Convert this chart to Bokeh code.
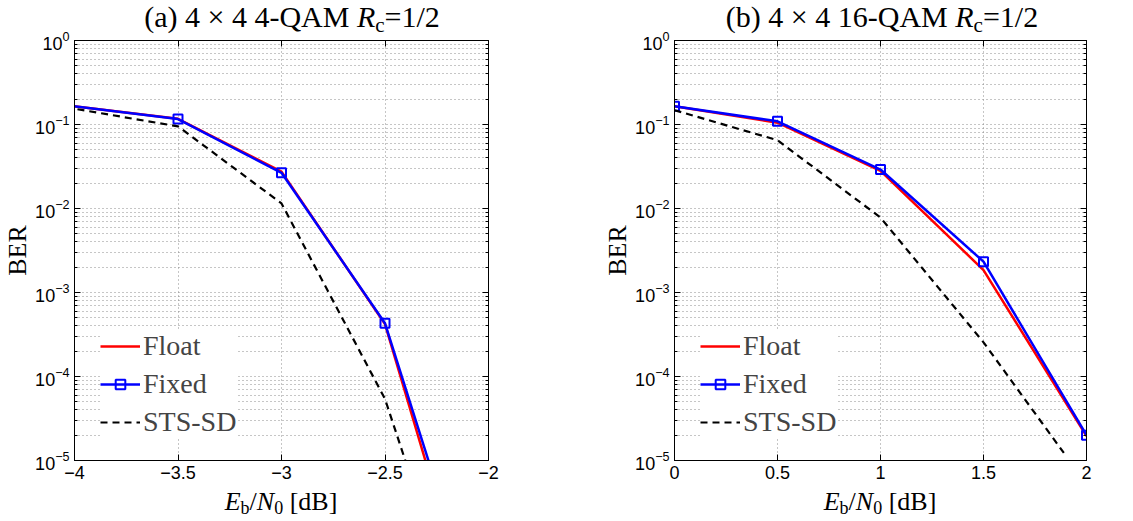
from bokeh.plotting import figure
from bokeh.layouts import row, column
from bokeh.models import (LinearAxis, LogAxis, FixedTicker, CustomJSTickFormatter,
                          LogTickFormatter, Legend, LegendItem, Div)
from bokeh.embed import file_html
from bokeh.resources import INLINE

# ---------------- data ----------------
# (a) 4x4 4-QAM Rc=1/2
A_X = [-4.5, -3.5, -3.0, -2.5, -2.0]
A_FLOAT = [0.233, 0.117, 0.0275, 4.2e-4, 2.9e-8]
A_FIXED = [0.233, 0.116, 0.0266, 4.3e-4, 5.5e-8]
A_STS_X = [-4.5, -3.5, -3.0, -2.5, -2.0]
A_STS = [0.25, 0.095, 0.0115, 5.4e-5, 1.0e-8]
A_XTICKS = [-4, -3.5, -3, -2.5, -2]
A_XLABELS = ["\u22124", "\u22123.5", "\u22123", "\u22122.5", "\u22122"]

# (b) 4x4 16-QAM Rc=1/2
B_X = [0.0, 0.5, 1.0, 1.5, 2.0]
B_FLOAT = [0.165, 0.105, 0.028, 1.85e-3, 1.95e-5]
B_FIXED = [0.165, 0.109, 0.0291, 2.33e-3, 2.0e-5]
B_STS_X = [0.0, 0.5, 1.0, 1.5, 1.89]
B_STS = [0.148, 0.065, 0.0078, 2.55e-4, 1.23e-5]
B_XTICKS = [0, 0.5, 1, 1.5, 2]
B_XLABELS = ["0", "0.5", "1", "1.5", "2"]

Y_DECADES = [1e-5, 1e-4, 1e-3, 1e-2, 1e-1, 1.0]
Y_MINOR = [m * d for d in Y_DECADES[:-1] for m in range(2, 10)]

TITLE_A = "(a) 4 \u00d7 4 4-QAM"
TITLE_B = "(b) 4 \u00d7 4 16-QAM"

SERIF = "Liberation Serif"
SANS = "Liberation Sans"
GRID_COLOR = "#8c8c8c"
TOP_B = 40
FIG_H = TOP_B + 420 + 50


def make_panel(width, left, right, xr, xticks, xlabels, x, yfloat, yfixed, sx, ssts):
    p = figure(width=width, height=FIG_H, x_range=xr, y_range=(1e-5, 1.0), y_axis_type="log",
               output_backend="svg", toolbar_location=None,
               min_border_left=left, min_border_right=right, min_border_top=TOP_B,
               min_border_bottom=50, background_fill_color="white",
               border_fill_color=None, outline_line_color="black")

    xb = p.below[0]
    yl = p.left[0]
    xt = FixedTicker(ticks=xticks)
    yt = FixedTicker(ticks=Y_DECADES, minor_ticks=Y_MINOR)
    xfmt = CustomJSTickFormatter(args=dict(vals=xticks, labs=xlabels), code="""
        for (let i = 0; i < vals.length; i++) { if (Math.abs(vals[i] - tick) < 1e-9) return labs[i]; }
        return '';""")
    blank = CustomJSTickFormatter(code="return '';")

    xb.ticker = xt
    xb.formatter = xfmt
    yl.ticker = yt
    yl.formatter = LogTickFormatter()
    p.xgrid.ticker = xt
    p.ygrid.ticker = yt

    top = LinearAxis(ticker=xt, formatter=blank)
    rgt = LogAxis(ticker=yt, formatter=blank)
    p.add_layout(top, "above")
    p.add_layout(rgt, "right")

    for ax in [xb, yl, top, rgt]:
        ax.axis_line_color = "black"
        ax.axis_line_width = 1
        ax.major_tick_in = 6
        ax.major_tick_out = 0
        ax.minor_tick_in = 3
        ax.minor_tick_out = 0
        ax.major_tick_line_color = "black"
        ax.minor_tick_line_color = "black"
        ax.major_label_text_font = SANS
        ax.major_label_text_font_size = "18px"
        ax.major_label_text_color = "black"
        ax.major_label_standoff = 5
    for ax in [top, rgt]:
        ax.major_label_text_font_size = "0px"
        ax.major_label_standoff = 0
    for ax in [xb, top]:
        ax.minor_tick_line_color = None

    yl.axis_label = "BER"
    yl.axis_label_text_font = SERIF
    yl.axis_label_text_font_size = "26px"
    yl.axis_label_text_font_style = "normal"
    yl.axis_label_text_color = "black"
    yl.axis_label_standoff = 0

    for g in [p.xgrid[0], p.ygrid[0]]:
        g.grid_line_color = GRID_COLOR
        g.grid_line_dash = "1 3"
        g.grid_line_width = 1
    p.ygrid.minor_grid_line_color = GRID_COLOR
    p.ygrid.minor_grid_line_dash = "1 3"
    p.ygrid.minor_grid_line_width = 1

    r_float = p.line(x, yfloat, line_color="#ff0000", line_width=2.5)
    r_fixed = p.line(x, yfixed, line_color="#0000ff", line_width=2.5)
    r_fixm = p.scatter(x, yfixed, marker="square", size=9, line_color="#0000ff",
                       line_width=2, fill_color=None)
    r_sts = p.line(sx, ssts, line_color="black", line_width=2.2, line_dash="7 5")

    leg = Legend(items=[LegendItem(label="Float", renderers=[r_float]),
                        LegendItem(label="Fixed", renderers=[r_fixed, r_fixm]),
                        LegendItem(label="STS-SD", renderers=[r_sts])],
                 location=(26, 22), margin=0, padding=6, spacing=6,
                 glyph_width=40, glyph_height=24, label_height=24, label_standoff=3,
                 label_text_font=SERIF, label_text_font_size="28px",
                 border_line_color=None, background_fill_color="white",
                 background_fill_alpha=1.0)
    p.add_layout(leg)
    return p


p1 = make_panel(580, 73, 92, (-4, -2), A_XTICKS, A_XLABELS, A_X, A_FLOAT, A_FIXED,
                A_STS_X, A_STS)
p2 = make_panel(545, 94, 39, (0, 2), B_XTICKS, B_XLABELS, B_X, B_FLOAT, B_FIXED,
                B_STS_X, B_STS)

SUB = "font-size:{fs}px;position:relative;top:{dy}px;"


def title_text(prefix):
    return (f"{prefix} <i>R</i><span style='{SUB.format(fs=21, dy=5)}'>c</span>=1/2")


XLABEL = (f"<i>E</i><span style='{SUB.format(fs=18, dy=4)}'>b</span>/"
          f"<i>N</i><span style='{SUB.format(fs=18, dy=4)}'>0</span> [dB]")

span = "position:absolute;left:{cx}px;top:{top}px;transform:translateX(-50%);"

header_html = (
    "<div style=\"position:relative;width:1125px;height:40px;font-family:'Liberation Serif',serif;"
    "font-size:30px;line-height:30px;color:#000;white-space:nowrap;\">"
    f"<span style='{span.format(cx=292, top=2)}'>{title_text(TITLE_A)}</span>"
    f"<span style='{span.format(cx=882, top=2)}'>{title_text(TITLE_B)}</span>"
    "</div>")

footer_html = (
    "<div style=\"position:relative;width:1125px;height:44px;font-family:'Liberation Serif',serif;"
    "font-size:26px;line-height:26px;color:#000;white-space:nowrap;\">"
    f"<span style='{span.format(cx=281, top=15)}'>{XLABEL}</span>"
    f"<span style='{span.format(cx=880, top=15)}'>{XLABEL}</span>"
    "</div>")

header = Div(text=header_html, width=1125, height=TOP_B, margin=(0, 0, -TOP_B, 0))
footer = Div(text=footer_html, width=1125, height=44, margin=(-36, 0, 0, 0))

layout = column(header, row(p1, p2), footer)
open("out.html", "w").write(file_html(layout, INLINE))
